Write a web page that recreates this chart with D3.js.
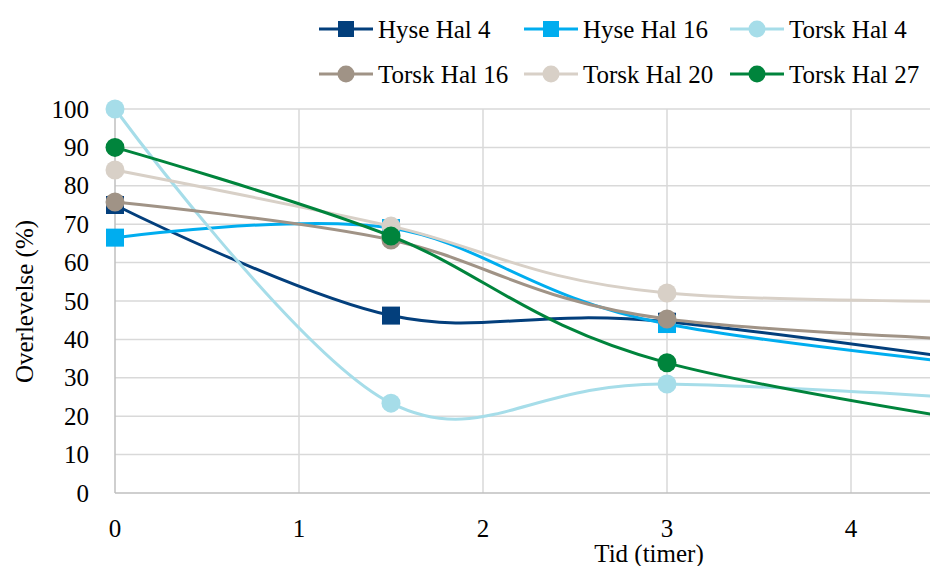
<!DOCTYPE html>
<html>
<head>
<meta charset="utf-8">
<script src="https://cdn.jsdelivr.net/npm/d3@7"></script>
<style>
  html, body { margin: 0; padding: 0; background: #fff; }
  #wrap { position: relative; width: 930px; height: 566px; overflow: hidden; }
  #wrap svg { position: absolute; left: 0; top: 0; display: block; }
  .lbl {
    position: absolute; white-space: nowrap; color: #000;
    font-family: "Liberation Serif", "Times New Roman", Tinos, serif;
    font-size: 25px; line-height: 25px; height: 25px;
  }
</style>
</head>
<body>
<div id="wrap"><svg id="fig" width="930" height="566"></svg></div>
<script>
// Sampling times (hours) and survival (%) per series
const hours = [0, 1.5, 3, 6];
const hyseHal4   = [75.0, 46.2, 44.6, 25.5];
const hyseHal16  = [66.5, 69.0, 44.0, 27];
const torskHal4  = [100,  23.4, 28.4, 20.5];
const torskHal16 = [75.8, 65.9, 45.3, 37.5];
const torskHal20 = [84.1, 69.5, 52.1, 50];
const torskHal27 = [90.0, 66.9, 33.9, 9];

const seriesNames  = ["Hyse Hal 4", "Hyse Hal 16", "Torsk Hal 4", "Torsk Hal 16", "Torsk Hal 20", "Torsk Hal 27"];
const seriesValues = [hyseHal4, hyseHal16, torskHal4, torskHal16, torskHal20, torskHal27];
const seriesColors = ["#033f7c", "#00adef", "#a6dde9", "#a09386", "#d8d0c7", "#00843c"];
const seriesMarker = ["square", "square", "circle", "circle", "circle", "circle"];

const xTicks = [0, 1, 2, 3, 4, 5, 6];
const xTickLabels = [0, 1, 2, 3, 4];
const yTicks = d3.range(0, 101, 10);

const svg = d3.select("#fig");
const wrap = d3.select("#wrap");

const x = d3.scaleLinear().domain([0, 6]).range([115, 115 + 6 * 184]);
const y = d3.scaleLinear().domain([0, 100]).range([493, 109]);

// Gridlines
const grid = svg.append("g");
grid.selectAll("line.h").data(yTicks.filter(d => d > 0)).join("line")
  .attr("x1", x(0)).attr("x2", x(6))
  .attr("y1", d => y(d)).attr("y2", d => y(d))
  .attr("stroke", "#d9d9d9").attr("stroke-width", 1.5);
grid.selectAll("line.v").data(xTicks.filter(d => d > 0)).join("line")
  .attr("x1", d => x(d)).attr("x2", d => x(d))
  .attr("y1", y(100)).attr("y2", y(0))
  .attr("stroke", "#d9d9d9").attr("stroke-width", 1.5);

// Axis lines
svg.append("line").attr("x1", x(0)).attr("x2", x(0)).attr("y1", y(100)).attr("y2", y(0))
  .attr("stroke", "#bfbfbf").attr("stroke-width", 1.5);
svg.append("line").attr("x1", x(0)).attr("x2", x(6)).attr("y1", y(0)).attr("y2", y(0))
  .attr("stroke", "#bfbfbf").attr("stroke-width", 1.5);

// Text labels are HTML elements laid over the SVG
function addLabel(text, left, top, width, align, transform) {
  const d = wrap.append("div").attr("class", "lbl")
    .style("left", left + "px").style("top", top + "px")
    .style("text-align", align || "left")
    .text(text);
  if (width != null) d.style("width", width + "px");
  if (transform) d.style("transform", transform);
  return d;
}

// Y tick labels, right aligned at x = 89 and centred on each gridline
yTicks.forEach(v => addLabel(v, 0, y(v) - 12.5, 89, "right"));
// X tick labels, centred under each gridline
xTickLabels.forEach(v => addLabel(v, x(v) - 30, 516, 60, "center"));

// Axis titles
addLabel("Tid (timer)", 649 - 100, 541, 200, "center");
addLabel("Overlevelse (%)", 23.5 - 150, 301 - 12.5, 300, "center", "rotate(-90deg)");

// Series lines and markers
const line = d3.line().curve(d3.curveCardinal.tension(0))
  .x((d, i) => x(hours[i])).y(d => y(d));

function drawMarker(g, type, cx, cy, color, size) {
  if (type === "square") {
    g.append("rect").attr("x", cx - size).attr("y", cy - size)
      .attr("width", 2 * size).attr("height", 2 * size).attr("fill", color);
  } else {
    g.append("circle").attr("cx", cx).attr("cy", cy).attr("r", size + 0.5).attr("fill", color);
  }
}

seriesValues.forEach((vals, s) => {
  const g = svg.append("g");
  g.append("path").attr("d", line(vals)).attr("fill", "none")
    .attr("stroke", seriesColors[s]).attr("stroke-width", 3);
  vals.forEach((v, i) => drawMarker(g, seriesMarker[s], x(hours[i]), y(v), seriesColors[s], 9));
});

// Legend
const legendPos = [[319, 29], [524, 29], [730, 29], [319, 74], [524, 74], [730, 74]];
seriesNames.forEach((name, s) => {
  const [lx, ly] = legendPos[s];
  const g = svg.append("g");
  g.append("line").attr("x1", lx).attr("x2", lx + 54).attr("y1", ly).attr("y2", ly)
    .attr("stroke", seriesColors[s]).attr("stroke-width", 3);
  drawMarker(g, seriesMarker[s], lx + 27, ly, seriesColors[s], 8);
  addLabel(name, lx + 59, ly - 12.5, null, "left");
});
</script>
</body>
</html>
